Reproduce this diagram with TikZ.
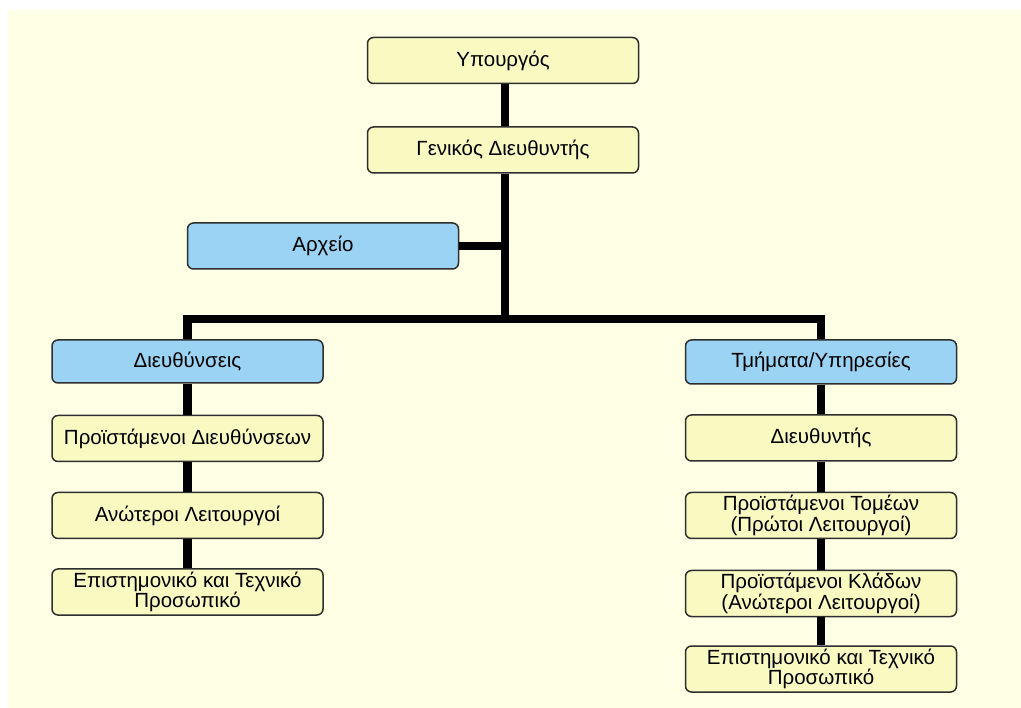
\documentclass[tikz,border=0pt]{standalone}
\usepackage{fontspec}
\setmainfont{Liberation Sans}
\definecolor{bgcream}{HTML}{FFFFE6}
\definecolor{boxyellow}{HTML}{F9F9C2}
\definecolor{boxblue}{HTML}{9AD3F3}
\definecolor{boxline}{HTML}{2E2E2E}
\tikzset{
  orgbox/.style={draw=boxline, line width=1.5pt, rounded corners=6pt,
    minimum width=271pt, minimum height=46pt, inner sep=0pt,
    align=center, font=\fontsize{20.5}{19.5}\selectfont},
  ybox/.style={orgbox, fill=boxyellow},
  bbox/.style={orgbox, fill=boxblue},
  link/.style={line width=8.5pt, black, line join=miter}
}
\begin{document}
\begin{tikzpicture}[x=1pt,y=-1pt]
\useasboundingbox (0,0) rectangle (1021,708);
\fill[white] (0,0) rectangle (1021,708);
\fill[bgcream] (8,10) rectangle (1021,708);

\node[ybox] (min) at (503,60.5) {Υπουργός};
\node[ybox] (gd) at (503,150) {Γενικός Διευθυντής};
\node[bbox] (arx) at (323,246) {Αρχείο};
\node[bbox, minimum height=43pt] (dieu) at (187.5,361.5) {Διευθύνσεις};
\node[bbox, minimum height=44pt] (tm) at (821,362) {Τμήματα/Υπηρεσίες};
\node[ybox] (pd) at (187.5,438.5) {Προϊστάμενοι Διευθύνσεων};
\node[ybox] (al) at (187.5,515.5) {Ανώτεροι Λειτουργοί};
\node[ybox] (ep1) at (187.5,592) {Επιστημονικό και Τεχνικό\\Προσωπικό};
\node[ybox] (dir) at (821,438) {Διευθυντής};
\node[ybox] (pt) at (821,515.5) {Προϊστάμενοι Τομέων\\(Πρώτοι Λειτουργοί)};
\node[ybox] (pk) at (821,593.5) {Προϊστάμενοι Κλάδων\\(Ανώτεροι Λειτουργοί)};
\node[ybox] (ep2) at (821,669) {Επιστημονικό και Τεχνικό\\Προσωπικό};

\coordinate (busM) at (505,319);
\coordinate (busL) at (187.5,319);
\coordinate (busR) at (821,319);
\coordinate (arxJ) at (505,246);

\draw[link] (min.south -| busM) -- (gd.north -| busM);
\draw[link] (gd.south -| busM) -- ([yshift=4pt]busM);
\draw[link] (arx.east) -- (arxJ);
\draw[link] (dieu.north) -- (busL) -- (busR) -- (tm.north);
\draw[link] (dieu.south) -- (pd.north);
\draw[link] (pd.south) -- (al.north);
\draw[link] (al.south) -- (ep1.north);
\draw[link] (tm.south) -- (dir.north);
\draw[link] (dir.south) -- (pt.north);
\draw[link] (pt.south) -- (pk.north);
\draw[link] (pk.south) -- (ep2.north);
\end{tikzpicture}
\end{document}
